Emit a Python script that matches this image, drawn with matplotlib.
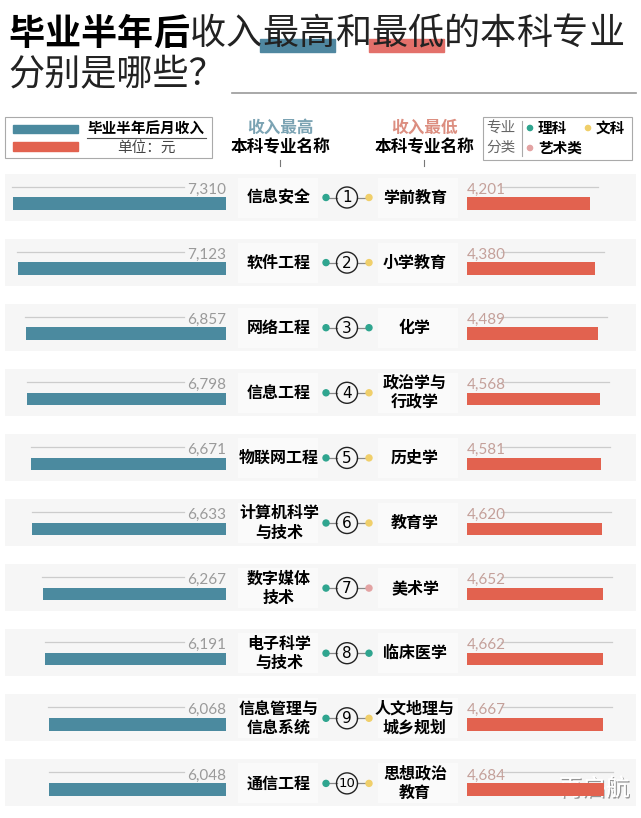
import matplotlib.pyplot as plt
import matplotlib.patheffects as pe
from matplotlib.patches import Rectangle, Circle

plt.rcParams['font.family'] = ['Noto Sans CJK SC', 'DejaVu Sans']

ranks = ['①', '②', '③', '④', '⑤', '⑥', '⑦', '⑧', '⑨', '⑩']
high_names = ['信息安全', '软件工程', '网络工程', '信息工程', '物联网工程',
              '计算机科学\n与技术', '数字媒体\n技术', '电子科学\n与技术',
              '信息管理与\n信息系统', '通信工程']
high_income = [7310, 7123, 6857, 6798, 6671, 6633, 6267, 6191, 6068, 6048]
low_names = ['学前教育', '小学教育', '化学', '政治学与\n行政学', '历史学',
             '教育学', '美术学', '临床医学', '人文地理与\n城乡规划', '思想政治\n教育']
low_income = [4201, 4380, 4489, 4568, 4581, 4620, 4652, 4662, 4667, 4684]
# 专业分类: 理科 / 文科 / 艺术类
low_kind = ['文科', '文科', '理科', '文科', '文科', '文科', '艺术类', '理科', '文科', '文科']

BLUE = '#4b8a9f'
RED = '#e2624f'
kind_color = {'理科': '#2fa58f', '文科': '#f0cf6a', '艺术类': '#e3a3a3'}

W, H = 641, 818
fig = plt.figure(figsize=(W / 100, H / 100), dpi=100)
ax = fig.add_axes([0, 0, 1, 1])
ax.set_xlim(0, W)
ax.set_ylim(H, 0)
ax.axis('off')

# title
x0 = 8
fs_t = 26
cw = 36.3
bold_part = '毕业半年后'
rest = '收入最高和最低的本科专业'
ax.add_patch(Rectangle((x0 + cw * 7 - 2, 39), cw * 2 + 2, 13, color='#4f87a0', zorder=1))
ax.add_patch(Rectangle((x0 + cw * 10 - 2, 39), cw * 2 + 2, 13, color='#e3706a', zorder=1))
for i, ch in enumerate(bold_part):
    ax.text(x0 + cw * i, 34, ch, fontsize=fs_t, fontweight='bold', va='center', ha='left', zorder=2)
for i, ch in enumerate(rest):
    ax.text(x0 + cw * (i + 5), 34, ch, fontsize=fs_t, va='center', ha='left', color='#222222', zorder=2)
ax.text(x0, 75, '分别是哪些？', fontsize=fs_t, va='center', ha='left', color='#222222')
ax.plot([232, 636], [93, 93], color='#999999', lw=1.2)

# left legend box
ax.add_patch(Rectangle((5, 117), 207, 41, fill=False, ec='#aaaaaa', lw=0.8))
ax.add_patch(Rectangle((13, 125), 65, 8, color=BLUE))
ax.add_patch(Rectangle((13, 142), 65, 9, color=RED))
ax.text(146, 128.5, '毕业半年后月收入', fontsize=10.5, fontweight='bold', ha='center', va='center')
ax.plot([87, 206], [137.5, 137.5], color='#555555', lw=0.8)
ax.text(146, 148, '单位：元', fontsize=10.5, ha='center', va='center', color='#444444')

# column headers
for cx, col, head in [(280, '#7ba3b3', '收入最高'), (424, '#dc8e80', '收入最低')]:
    ax.text(cx, 128, head, fontsize=12, fontweight='bold', ha='center', va='center', color=col)
    ax.text(cx, 147, '本科专业名称', fontsize=12, fontweight='bold', ha='center', va='center')
    ax.plot([cx, cx], [160, 166], color='#777777', lw=0.8)

# right legend box
ax.add_patch(Rectangle((483, 117), 149, 43, fill=False, ec='#aaaaaa', lw=0.8))
ax.text(501, 128, '专业', fontsize=10.5, ha='center', va='center', color='#666666')
ax.text(501, 148, '分类', fontsize=10.5, ha='center', va='center', color='#666666')
ax.plot([522, 522], [121, 156], color='#aaaaaa', lw=0.8)
for (lx, ly), name in zip([(530, 128), (588, 128), (530, 148)], ['理科', '文科', '艺术类']):
    ax.add_patch(Circle((lx, ly), 2.6, color=kind_color[name]))
    ax.text(lx + 8, ly, name, fontsize=10.5, fontweight='bold', ha='left', va='center')

# rows
step = 65.1
label_y = [197.5 + step * i for i in range(len(ranks))]
bar_y = [y + 6 for y in label_y]

for i, y in enumerate(label_y):
    ax.add_patch(Rectangle((5, y - 24), 631, 47, color='#f6f6f6', zorder=0, lw=0))
    ax.add_patch(Rectangle((238, y - 20), 80, 40, color='#fafafa', zorder=0, lw=0))
    ax.add_patch(Rectangle((378, y - 20), 80, 40, color='#fafafa', zorder=0, lw=0))
    ax.text(279, y, high_names[i], fontsize=11.5, fontweight='bold', ha='center', va='center',
            linespacing=1.25)
    ax.text(415, y, low_names[i], fontsize=11.5, fontweight='bold', ha='center', va='center',
            linespacing=1.25)
    ax.plot([326, 337], [y, y], color='#888888', lw=0.9, zorder=2)
    ax.plot([357, 369], [y, y], color='#888888', lw=0.9, zorder=2)
    ax.add_patch(Circle((326, y), 3.0, color=kind_color['理科'], zorder=3))
    ax.add_patch(Circle((369, y), 3.0, color=kind_color[low_kind[i]], zorder=3))
    ax.add_patch(Circle((347, y), 10.5, fill=False, ec='#222222', lw=1.0, zorder=3))
    ax.text(347, y + 0.5, str(i + 1), fontsize=11 if i < 9 else 9.5, ha='center', va='center',
            family=['DejaVu Sans'], zorder=4)

# bar axes share the pixel y scale
scale = 0.0292  # px per yuan
axl = fig.add_axes([0, 0, 226 / W, 1])
axl.set_xlim(226 / scale, 0)
axl.set_ylim(H, 0)
axl.axis('off')
axl.barh(bar_y, high_income, height=12.5, color=BLUE)
for y, v in zip(bar_y, high_income):
    axl.text(0, y - 14, f'{v:,}', fontsize=11, ha='right', va='center',
             color='#9a9a9a', family=['Lato', 'DejaVu Sans'])
    axl.plot([v + 20, 1450], [y - 17, y - 17], color='#cccccc', lw=0.9)

axr = fig.add_axes([467 / W, 0, (W - 467) / W, 1])
axr.set_xlim(0, (W - 467) / scale)
axr.set_ylim(H, 0)
axr.axis('off')
axr.barh(bar_y, low_income, height=12.5, color=RED)
for y, v in zip(bar_y, low_income):
    axr.text(0, y - 14, f'{v:,}', fontsize=11, ha='left', va='center',
             color='#c4a09a', family=['Lato', 'DejaVu Sans'])
    axr.plot([1150, v + 300], [y - 17, y - 17], color='#cccccc', lw=0.9)

# watermark
ax.text(594, 789, '再启航', fontsize=17, ha='center', va='center', color='white', zorder=10,
        path_effects=[pe.withSimplePatchShadow(offset=(1, -1), shadow_rgbFace='#555555', alpha=0.6),
                      pe.Normal()])

fig.savefig('out.png', dpi=100)
